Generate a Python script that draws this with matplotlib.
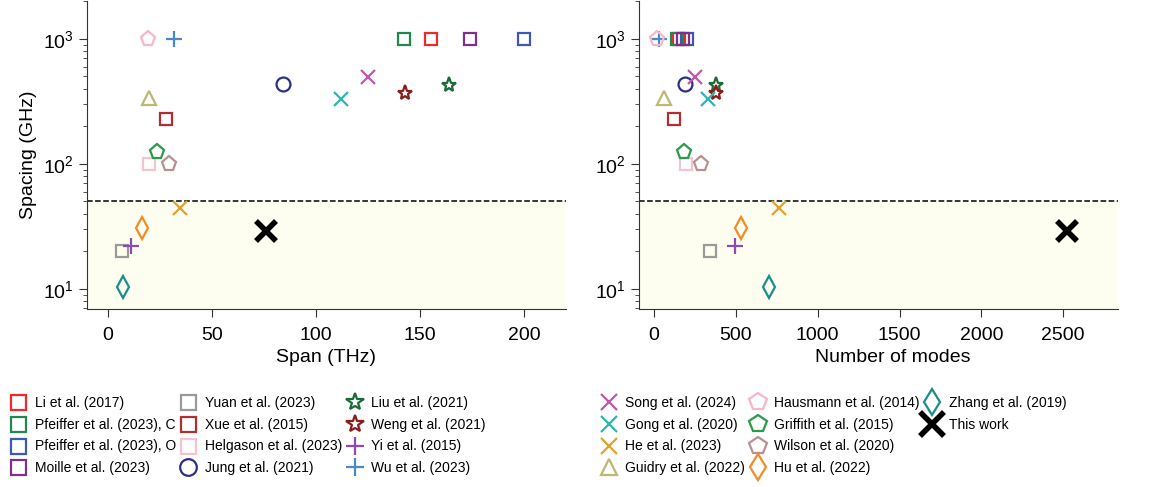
import matplotlib.pyplot as plt
import numpy as np

plt.rcParams['font.family'] = ['Liberation Sans', 'DejaVu Sans']
plt.rcParams['mathtext.fontset'] = 'custom'
plt.rcParams['mathtext.rm'] = 'Liberation Sans'

# Reference works: label, span (THz), spacing (GHz), number of modes
labels = ["Li et al. (2017)", "Pfeiffer et al. (2023), C", "Pfeiffer et al. (2023), O",
          "Moille et al. (2023)", "Yuan et al. (2023)", "Xue et al. (2015)",
          "Helgason et al. (2023)", "Jung et al. (2021)", "Liu et al. (2021)",
          "Weng et al. (2021)", "Yi et al. (2015)", "Wu et al. (2023)",
          "Song et al. (2024)", "Gong et al. (2020)", "He et al. (2023)",
          "Guidry et al. (2022)", "Hausmann et al. (2014)", "Griffith et al. (2015)",
          "Wilson et al. (2020)", "Hu et al. (2022)", "Zhang et al. (2019)", "This work"]
span = [155, 142, 200, 174, 6.9, 27.9,
        19.7, 84, 164, 142.5, 11.1, 31.7,
        125, 112, 34.6, 19.9, 19.4, 23.4,
        29.3, 16.5, 7.5, 75.8]
spacing = [1000, 1000, 1000, 1000, 20, 230,
           100, 434, 431, 370, 22, 1000,
           494, 333, 44.7, 339, 1000, 125,
           100, 30.4, 10.3, 29]
modes = [155, 142, 200, 174, 340, 122,
         197, 190, 378, 380, 495, 30,
         250, 330, 765, 59, 20, 185,
         288, 530, 705, 2525]

markers = ['s', 's', 's', 's', 's', 's', 's', 'o', '*', '*', '+', '+',
           'x', 'x', 'x', '^', 'p', 'p', 'p', 'd', 'd', 'x']
colors = ['#ec2a2f', '#208a4e', '#3d5ab0', '#7e2f8e', '#9a9a9a', '#b03030',
          '#f4c4cf', '#2b2f88', '#1b6b36', '#8a1b1b', '#8e4aae', '#4a88c9',
          '#c256a8', '#2cb7b0', '#dca232', '#bdb874', '#f5b8c8', '#2b9a4a',
          '#b88f92', '#f28a25', '#1b8d89', '#000000']
sizes = [9, 9, 9, 9, 9, 9, 9, 10, 11, 11, 11, 11,
         10, 10, 10, 10, 11, 11, 11, 11, 11, 14]
threshold = 50

fig = plt.figure(figsize=(11.72, 4.87), dpi=100)
ax1 = fig.add_axes([0.0742, 0.3655, 0.4087, 0.632])
ax2 = fig.add_axes([0.5452, 0.3655, 0.4085, 0.632])

handles = []
for ax, xs in [(ax1, span), (ax2, modes)]:
    ax.axhspan(1, threshold, color='#fdfdf0', zorder=0)
    ax.axhline(threshold, color='black', linestyle='--', linewidth=1.1, zorder=1)
    hs = []
    for i in range(len(labels)):
        mew = 4 if labels[i] == "This work" else 1.6
        h, = ax.plot(xs[i], spacing[i], linestyle='none', marker=markers[i],
                     markersize=sizes[i], markerfacecolor='none',
                     markeredgecolor=colors[i], markeredgewidth=mew,
                     label=labels[i], zorder=3)
        hs.append(h)
    handles = hs
    ax.set_yscale('log')
    ax.set_ylim(6.9, 2000)
    ax.spines['top'].set_visible(False)
    ax.spines['right'].set_visible(False)
    ax.spines['left'].set_color('#333333')
    ax.spines['bottom'].set_color('#333333')
    ax.tick_params(axis='both', which='major', labelsize=14, length=6, color='#333333')
    ax.tick_params(axis='x', which='major', pad=7)
    ax.tick_params(axis='y', which='minor', length=3, color='#333333')

ax1.set_xlim(-10, 220)
ax1.set_xticks([0, 50, 100, 150, 200])
ax1.set_xlabel("Span (THz)", fontsize=14)
ax1.set_ylabel("Spacing (GHz)", fontsize=14)

ax2.set_xlim(-92, 2833)
ax2.set_xticks([0, 500, 1000, 1500, 2000, 2500])
ax2.set_xlabel("Number of modes", fontsize=14)
ax1.xaxis.set_label_coords(0.5, -0.13)
ax2.xaxis.set_label_coords(0.53, -0.13)

# two legends under the panels, three columns each
blank, = ax1.plot([], [], linestyle='none', marker='none', label=' ')
leg_kw = dict(ncol=3, frameon=False, handlelength=1.1, markerscale=1.2,
              handletextpad=0.65, columnspacing=0.35, labelspacing=0.55,
              numpoints=1, borderaxespad=0, fontsize=10)
fig.legend(handles=handles[:12], loc='upper left',
           bbox_to_anchor=(0.004, 0.198), **leg_kw)
fig.legend(handles=handles[12:] + [blank, blank], loc='upper left',
           bbox_to_anchor=(0.508, 0.198), **leg_kw)

plt.savefig('out.png', dpi=100)
